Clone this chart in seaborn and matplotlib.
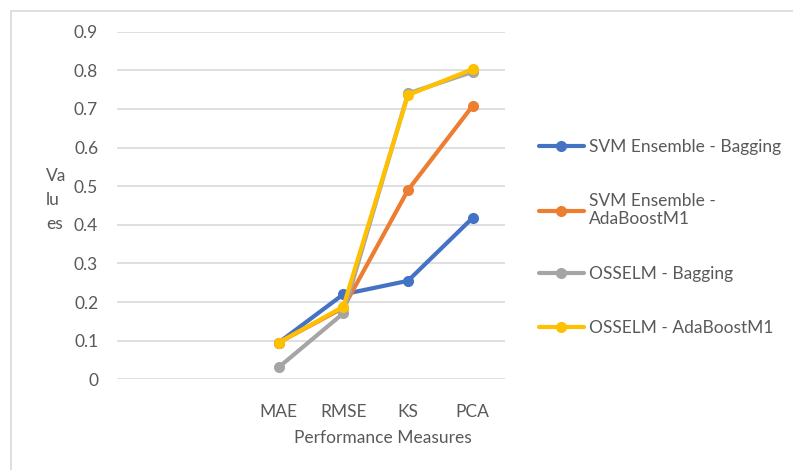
import matplotlib
matplotlib.use("Agg")
import matplotlib.pyplot as plt
import seaborn as sns
import pandas as pd
from matplotlib.patches import Rectangle

# data
measures = ["MAE", "RMSE", "KS", "PCA"]
blank_slots = 2  # the category axis has two empty slots before MAE
series_names = ["SVM Ensemble - Bagging", "SVM Ensemble -\nAdaBoostM1",
                "OSSELM - Bagging", "OSSELM - AdaBoostM1"]
svm_bagging = [0.095, 0.220, 0.255, 0.418]
svm_adaboost = [0.095, 0.185, 0.490, 0.708]
osselm_bagging = [0.031, 0.171, 0.740, 0.796]
osselm_adaboost = [0.095, 0.188, 0.736, 0.803]
colors = ["#4472C4", "#ED7D31", "#A5A5A5", "#FFC000"]
y_ticks = [0, 0.1, 0.2, 0.3, 0.4, 0.5, 0.6, 0.7, 0.8, 0.9]

rows = []
for name, vals in zip(series_names, [svm_bagging, svm_adaboost, osselm_bagging, osselm_adaboost]):
    for i, (m, v) in enumerate(zip(measures, vals)):
        rows.append({"pos": i + blank_slots, "measure": m, "value": v, "series": name})
df = pd.DataFrame(rows)

sns.set_theme(style="white")
plt.rcParams['font.family'] = ['Lato', 'DejaVu Sans']
text_col = "#595959"
fs = 12.5

fig = plt.figure(figsize=(7.93, 4.70), dpi=100)
ax = fig.add_axes([117 / 793, 1 - 379.3 / 470, 388 / 793, 347.6 / 470])

# chart border (only top/left visible in the crop)
fig.patches.append(Rectangle((11 / 793, -0.1), 1.2, (1 - 11 / 470) + 0.1,
                             transform=fig.transFigure, fill=False,
                             edgecolor="#D9D9D9", linewidth=1.2))

sns.lineplot(data=df, x="pos", y="value", hue="series", palette=colors,
             marker="o", markersize=8, markeredgewidth=0, linewidth=3,
             ax=ax, legend=False, zorder=3)

ax.set_xlim(-0.5, len(measures) + blank_slots - 0.5)
ax.set_ylim(0, 0.9)
ax.set_yticks(y_ticks)
ax.set_yticklabels(["0"] + [f"{t:.1f}" for t in y_ticks[1:]])
ax.set_xticks(range(len(measures) + blank_slots))
ax.set_xticklabels([""] * blank_slots + measures)
ax.yaxis.grid(True, color="#D9D9D9", linewidth=1.2)
ax.xaxis.grid(False)
for s in ax.spines.values():
    s.set_visible(False)
ax.tick_params(axis="y", length=0, pad=13.5, labelsize=fs, labelcolor=text_col)
ax.tick_params(axis="x", length=0, pad=18, labelsize=fs, labelcolor=text_col)

ax.set_xlabel("Performance Measures", fontsize=fs, color=text_col)
ax.xaxis.set_label_coords((383 - 117) / 388, -(438 - 379.3) / 347.6)
ax.xaxis.label.set_va("center")
ax.set_ylabel("")
fig.text(46 / 793, 1 - 200 / 470, "Va\nlu\nes", fontsize=fs, color=text_col,
         ha="left", va="center", linespacing=1.65)

handles = [plt.Line2D([], [], color=c, marker="o", markersize=8, linewidth=3,
                      markeredgewidth=0) for c in colors]
fig.legend(handles, series_names, loc="upper left",
           bbox_to_anchor=(530 / 793, 1 - 130 / 470), frameon=False,
           fontsize=fs, labelcolor=text_col, labelspacing=2.2,
           handlelength=2.6, handletextpad=0.3, borderpad=0)

fig.savefig("out.png", dpi=100)
